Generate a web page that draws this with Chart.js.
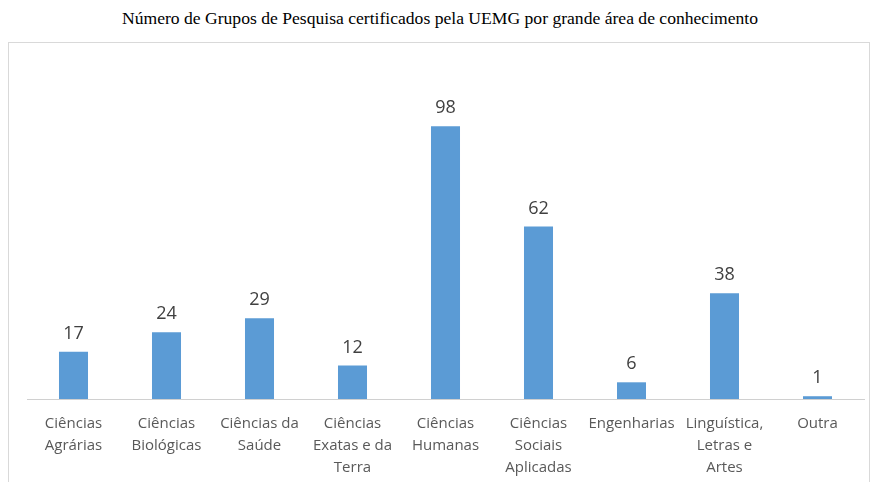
<!DOCTYPE html>
<html>
<head>
<meta charset="utf-8">
<script src="https://cdn.jsdelivr.net/npm/chart.js@4"></script>
<style>
    body { margin: 0; background: #fff; }
    #title {
        position: absolute; left: 0; top: 8px; width: 880px;
        text-align: center; font-family: "Liberation Serif", serif;
        font-size: 17.6px; color: #000;
    }
    #box {
        position: absolute; left: 8px; top: 42px; width: 862px; height: 450px;
        border: 1px solid #d9d9d9; box-sizing: border-box;
    }
    #chart-wrap { position: absolute; left: 0; top: 0; width: 860px; height: 439px; }
</style>
</head>
<body>
<div id="title">Número de Grupos de Pesquisa certificados pela UEMG por grande área de conhecimento</div>
<div id="box"><div id="chart-wrap"><canvas id="chart"></canvas></div></div>
<script>
// Categories (multi-line labels) and values
const categories = [
    ['Ciências', 'Agrárias'],
    ['Ciências', 'Biológicas'],
    ['Ciências da', 'Saúde'],
    ['Ciências', 'Exatas e da', 'Terra'],
    ['Ciências', 'Humanas'],
    ['Ciências', 'Sociais', 'Aplicadas'],
    'Engenharias',
    ['Linguística,', 'Letras e', 'Artes'],
    'Outra'
];
const groupCounts = [17, 24, 29, 12, 98, 62, 6, 38, 1];

// Draw value labels above each bar
const valueLabels = {
    id: 'valueLabels',
    afterDatasetsDraw(chart) {
        const ctx = chart.ctx;
        const meta = chart.getDatasetMeta(0);
        ctx.save();
        ctx.font = '18px "Open Sans", sans-serif';
        ctx.fillStyle = '#404040';
        ctx.textAlign = 'center';
        ctx.textBaseline = 'bottom';
        meta.data.forEach((bar, i) => {
            ctx.fillText(groupCounts[i], bar.x, bar.y - 9);
        });
        ctx.restore();
    }
};

new Chart(document.getElementById('chart'), {
    type: 'bar',
    data: {
        labels: categories,
        datasets: [{
            data: groupCounts,
            backgroundColor: '#5b9bd5',
            categoryPercentage: 1,
            barPercentage: 0.312
        }]
    },
    options: {
        responsive: true,
        maintainAspectRatio: false,
        animation: false,
        layout: { padding: { top: 22, left: 18, right: 5, bottom: 0 } },
        plugins: { legend: { display: false }, tooltip: { enabled: false } },
        scales: {
            x: {
                grid: { display: false, drawTicks: false },
                border: { display: true, color: '#d0d0d0', width: 1 },
                ticks: {
                    color: '#595959',
                    padding: 14,
                    maxRotation: 0,
                    autoSkip: false,
                    font: { family: '"Open Sans", sans-serif', size: 15, lineHeight: 1.45 }
                },
                afterFit(scale) { scale.height = 83; }
            },
            y: {
                display: false,
                min: 0,
                max: 120
            }
        }
    },
    plugins: [valueLabels]
});
</script>
</body>
</html>
